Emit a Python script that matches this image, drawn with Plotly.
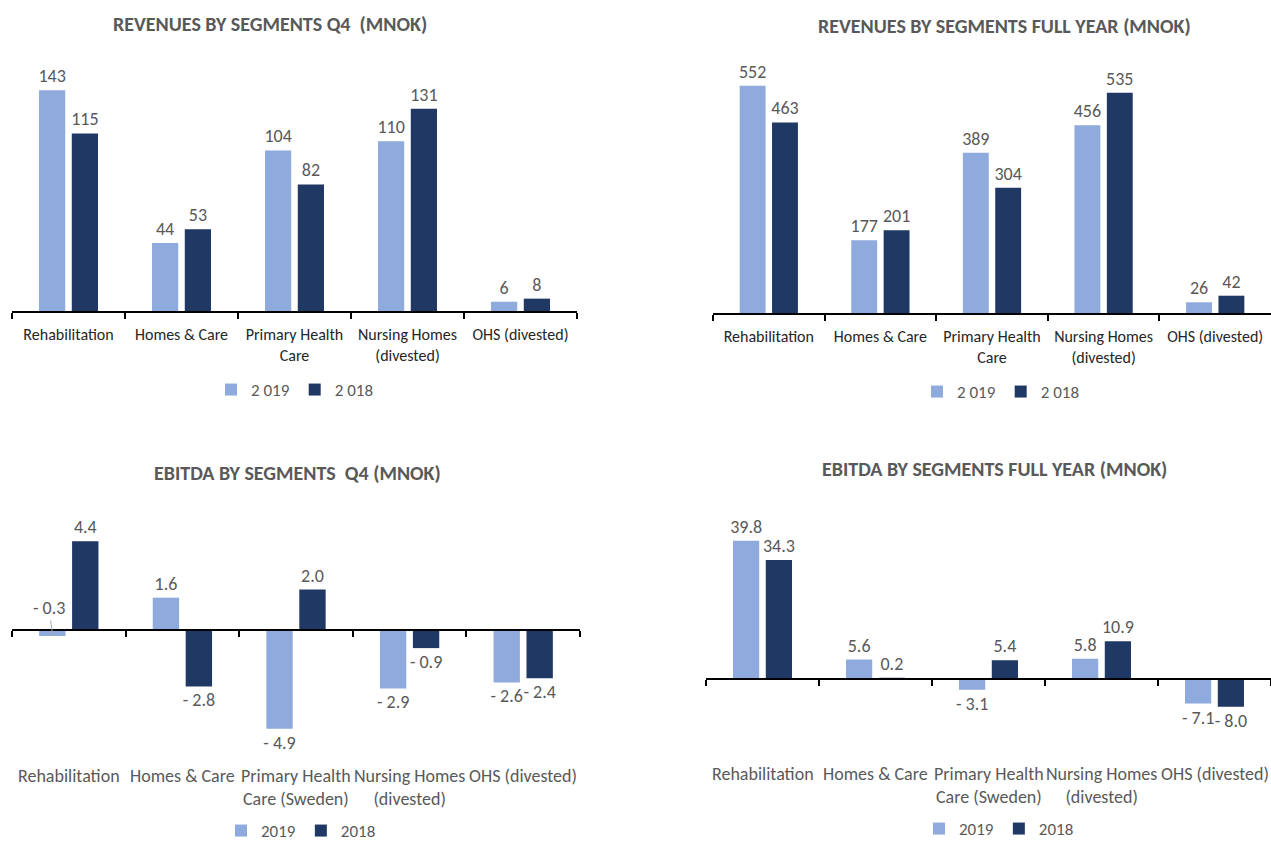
import plotly.graph_objects as go

# ---------------- data ----------------
rev_categories = ["Rehabilitation", "Homes & Care", "Primary Health<br>Care",
                  "Nursing Homes<br>(divested)", "OHS (divested)"]
ebitda_categories = ["Rehabilitation", "Homes & Care", "Primary Health<br>Care (Sweden)",
                     "Nursing Homes<br>(divested)", "OHS (divested)"]

rev_q4_2019 = [143, 44, 104, 110, 6]
rev_q4_2018 = [115, 53, 82, 131, 8]
rev_fy_2019 = [552, 177, 389, 456, 26]
rev_fy_2018 = [463, 201, 304, 535, 42]

ebitda_q4_2019 = [-0.3, 1.6, -4.9, -2.9, -2.6]
ebitda_q4_2018 = [4.4, -2.8, 2.0, -0.9, -2.4]
ebitda_fy_2019 = [39.8, 5.6, -3.1, 5.8, -7.1]
ebitda_fy_2018 = [34.3, 0.2, 5.4, 10.9, -8.0]

rev_names = ["2 019", "2 018"]
ebitda_names = ["2019", "2018"]

titles = ["REVENUES BY SEGMENTS Q4  (MNOK)", "REVENUES BY SEGMENTS FULL YEAR (MNOK)",
          "EBITDA BY SEGMENTS  Q4 (MNOK)", "EBITDA BY SEGMENTS FULL YEAR (MNOK)"]

# ---------------- style ----------------
C19 = "#8FAADC"
C18 = "#203864"
GREY = "#595959"
FONT = "Carlito, Liberation Sans Narrow, Roboto, sans-serif"
W, H = 1271, 843


def fx(p):
    return p / W


def fy(p):
    return 1 - p / H


def fmt_int(v):
    return f"{v:.0f}"


def fmt_dec(v):
    return f"- {abs(v):.1f}" if v < 0 else f"{v:.1f}"


fig = go.Figure()

panels = [
    dict(ax="1", cats=rev_categories, s19=rev_q4_2019, s18=rev_q4_2018, names=rev_names,
         fmt=fmt_int, xd=[fx(12), fx(577)], yd=[fy(311), fy(64)], yr=[0, 160], legend="legend"),
    dict(ax="2", cats=rev_categories, s19=rev_fy_2019, s18=rev_fy_2018, names=rev_names,
         fmt=fmt_int, xd=[fx(713), fx(1271)], yd=[fy(313), fy(66)], yr=[0, 600], legend="legend2"),
    dict(ax="3", cats=ebitda_categories, s19=ebitda_q4_2019, s18=ebitda_q4_2018, names=ebitda_names,
         fmt=fmt_dec, xd=[fx(12), fx(580)], yd=[fy(751), fy(519)], yr=[-6, 5.5], legend="legend3"),
    dict(ax="4", cats=ebitda_categories, s19=ebitda_fy_2019, s18=ebitda_fy_2018, names=ebitda_names,
         fmt=fmt_dec, xd=[fx(706), fx(1271)], yd=[fy(720.6), fy(522.8)], yr=[-12, 45], legend="legend4"),
]

for i, p in enumerate(panels):
    xa = "x" if p["ax"] == "1" else "x" + p["ax"]
    ya = "y" if p["ax"] == "1" else "y" + p["ax"]
    tp19 = ["outside"] * len(p["s19"])
    if i == 2:
        tp19[0] = "none"
    for vals, name, col, tp in [(p["s19"], p["names"][0], C19, tp19),
                                (p["s18"], p["names"][1], C18, "outside")]:
        fig.add_trace(go.Bar(
            x=p["cats"], y=vals, name=name, marker_color=col, marker_line_width=0,
            text=[p["fmt"](v) for v in vals], textposition=tp, constraintext="none",
            textfont=dict(color=GREY, size=18, family=FONT), cliponaxis=False,
            xaxis=xa, yaxis=ya, legend=p["legend"], hoverinfo="skip",
        ))

layout = dict(
    width=W, height=H, margin=dict(l=0, r=0, t=0, b=0, autoexpand=False),
    paper_bgcolor="white", plot_bgcolor="white",
    barmode="group", bargap=0.42, bargroupgap=0.2,
    font=dict(family=FONT, color=GREY, size=14),
    showlegend=True,
)

annotations = []
legend_pos = [(295, 390), (1001, 392), (301, 831), (999, 829)]
title_pos = [(270, 24), (1004, 26), (297, 473), (994, 469)]

for i, p in enumerate(panels):
    k = p["ax"]
    xkey = "xaxis" if k == "1" else "xaxis" + k
    ykey = "yaxis" if k == "1" else "yaxis" + k
    yref = "y" if k == "1" else "y" + k
    xref = "x" if k == "1" else "x" + k
    ymin, ymax = p["yr"]
    yd = p["yd"]
    layout[ykey] = dict(domain=yd, range=p["yr"], visible=False, anchor=xref)
    if i < 2:
        layout[xkey] = dict(domain=p["xd"], anchor=yref, type="category",
                            showline=True, linecolor="black", linewidth=2,
                            ticks="outside", tickson="boundaries", ticklen=6,
                            tickcolor="black", tickwidth=1.5,
                            tickfont=dict(size=16, color="#262626", family=FONT),
                            ticklabelstandoff=8, showgrid=False, zeroline=False)
    else:
        zero_pos = yd[0] + (0 - ymin) / (ymax - ymin) * (yd[1] - yd[0])
        layout[xkey] = dict(domain=p["xd"], anchor="free", position=zero_pos, type="category",
                            showline=True, linecolor="black", linewidth=2,
                            ticks="outside", tickson="boundaries", ticklen=6,
                            tickcolor="black", tickwidth=1.5,
                            showticklabels=False, showgrid=False, zeroline=False)
        lab_y = 763 if i == 2 else 761
        for c in p["cats"]:
            annotations.append(dict(xref=xref, yref="paper", x=c, y=fy(lab_y), yanchor="top",
                                    text=c, showarrow=False,
                                    font=dict(size=18, color=GREY, family=FONT)))
    lx, ly = legend_pos[i]
    layout[p["legend"]] = dict(orientation="h", x=fx(lx), y=fy(ly), xanchor="center",
                               yanchor="middle", font=dict(size=17, color=GREY, family=FONT),
                               bgcolor="rgba(0,0,0,0)", itemwidth=30, traceorder="normal")
    tx, ty = title_pos[i]
    annotations.append(dict(xref="paper", yref="paper", x=fx(tx), y=fy(ty), text="<b>" + titles[i] + "</b>",
                            showarrow=False, xanchor="center", yanchor="middle",
                            font=dict(size=20, color=GREY, family=FONT)))

# leader-line label for the small negative value
annotations.append(dict(xref="x3", yref="y3", x=ebitda_categories[0], y=ebitda_q4_2019[0],
                        text=fmt_dec(ebitda_q4_2019[0]), showarrow=True, arrowhead=0,
                        arrowcolor="#a6a6a6", arrowwidth=1, ax=-4, ay=-28, xshift=-16,
                        standoff=0, font=dict(size=18, color=GREY, family=FONT)))

layout["annotations"] = annotations
fig.update_layout(**layout)
fig.write_html("out.html")
